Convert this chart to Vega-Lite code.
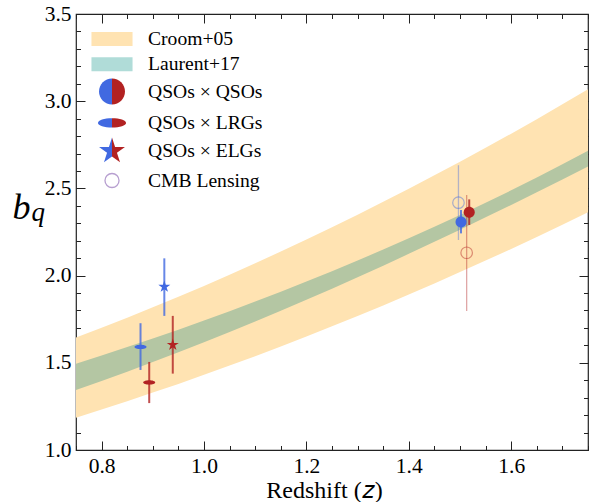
{
  "$schema": "https://vega.github.io/schema/vega-lite/v6.json",
  "width": 512,
  "height": 436,
  "autosize": {"type": "none"},
  "padding": {"left": 76, "top": 14, "right": 8, "bottom": 52},
  "background": "white",
  "config": {
    "view": {"stroke": "#222222", "strokeWidth": 1.2},
    "font": "Liberation Serif",
    "axis": {
      "grid": false,
      "domain": false,
      "tickColor": "#222222",
      "tickWidth": 1,
      "labelFont": "Liberation Serif",
      "labelFontSize": 21.5,
      "labelColor": "black",
      "titleFont": "Liberation Serif",
      "titleFontWeight": "normal",
      "titleColor": "black"
    },
    "legend": {
      "orient": "none",
      "legendX": 22,
      "legendY": 11,
      "padding": 0,
      "symbolSize": 676,
      "symbolStrokeWidth": 1.3,
      "symbolOpacity": 1,
      "rowPadding": 1.3,
      "labelOffset": 22,
      "labelFont": "Liberation Serif",
      "labelFontSize": 19.6,
      "labelColor": "black",
      "labelLimit": 300
    }
  },
  "datasets": {
    "bands": [
      {"z": 0.75, "c_lo": 1.185, "c_hi": 1.645, "l_lo": 1.344, "l_hi": 1.495},
      {"z": 0.80, "c_lo": 1.232, "c_hi": 1.701, "l_lo": 1.396, "l_hi": 1.542},
      {"z": 0.85, "c_lo": 1.280, "c_hi": 1.759, "l_lo": 1.449, "l_hi": 1.590},
      {"z": 0.90, "c_lo": 1.329, "c_hi": 1.818, "l_lo": 1.504, "l_hi": 1.639},
      {"z": 0.95, "c_lo": 1.379, "c_hi": 1.879, "l_lo": 1.560, "l_hi": 1.690},
      {"z": 1.00, "c_lo": 1.431, "c_hi": 1.941, "l_lo": 1.618, "l_hi": 1.742},
      {"z": 1.05, "c_lo": 1.484, "c_hi": 2.005, "l_lo": 1.677, "l_hi": 1.796},
      {"z": 1.10, "c_lo": 1.538, "c_hi": 2.071, "l_lo": 1.737, "l_hi": 1.851},
      {"z": 1.15, "c_lo": 1.594, "c_hi": 2.138, "l_lo": 1.798, "l_hi": 1.908},
      {"z": 1.20, "c_lo": 1.651, "c_hi": 2.207, "l_lo": 1.861, "l_hi": 1.966},
      {"z": 1.25, "c_lo": 1.709, "c_hi": 2.277, "l_lo": 1.925, "l_hi": 2.025},
      {"z": 1.30, "c_lo": 1.768, "c_hi": 2.349, "l_lo": 1.991, "l_hi": 2.087},
      {"z": 1.35, "c_lo": 1.829, "c_hi": 2.423, "l_lo": 2.057, "l_hi": 2.149},
      {"z": 1.40, "c_lo": 1.891, "c_hi": 2.498, "l_lo": 2.125, "l_hi": 2.214},
      {"z": 1.45, "c_lo": 1.955, "c_hi": 2.575, "l_lo": 2.194, "l_hi": 2.280},
      {"z": 1.50, "c_lo": 2.020, "c_hi": 2.653, "l_lo": 2.263, "l_hi": 2.348},
      {"z": 1.55, "c_lo": 2.086, "c_hi": 2.733, "l_lo": 2.334, "l_hi": 2.418},
      {"z": 1.60, "c_lo": 2.153, "c_hi": 2.814, "l_lo": 2.405, "l_hi": 2.489},
      {"z": 1.65, "c_lo": 2.222, "c_hi": 2.897, "l_lo": 2.478, "l_hi": 2.563},
      {"z": 1.70, "c_lo": 2.292, "c_hi": 2.982, "l_lo": 2.551, "l_hi": 2.639},
      {"z": 1.75, "c_lo": 2.363, "c_hi": 3.068, "l_lo": 2.625, "l_hi": 2.716}
    ],
    "points": [
      {"tracer": "QSOs × QSOs", "sample": "S1", "z": 1.502, "b": 2.307, "lo": 2.242, "hi": 2.376},
      {"tracer": "QSOs × QSOs", "sample": "S2", "z": 1.518, "b": 2.363, "lo": 2.290, "hi": 2.437},
      {"tracer": "QSOs × LRGs", "sample": "S1", "z": 0.876, "b": 1.591, "lo": 1.459, "hi": 1.727},
      {"tracer": "QSOs × LRGs", "sample": "S2", "z": 0.893, "b": 1.387, "lo": 1.269, "hi": 1.505},
      {"tracer": "QSOs × ELGs", "sample": "S1", "z": 0.9225, "b": 1.936, "lo": 1.769, "hi": 2.099},
      {"tracer": "QSOs × ELGs", "sample": "S2", "z": 0.939, "b": 1.603, "lo": 1.438, "hi": 1.769},
      {"tracer": "CMB Lensing", "sample": "S1", "z": 1.497, "b": 2.418, "lo": 2.204, "hi": 2.633},
      {"tracer": "CMB Lensing", "sample": "S2", "z": 1.513, "b": 2.131, "lo": 1.797, "hi": 2.462}
    ],
    "legend": [
      {"item": "Croom+05", "key": "k1"},
      {"item": "Laurent+17", "key": "k2"},
      {"item": "QSOs × QSOs", "key": "k3"},
      {"item": "QSOs × LRGs", "key": "k4"},
      {"item": "QSOs × ELGs", "key": "k5"},
      {"item": "CMB Lensing", "key": "k6"}
    ]
  },
  "resolve": {
    "axis": {"x": "independent", "y": "independent"},
    "scale": {"color": "independent", "stroke": "independent", "shape": "independent"}
  },
  "layer": [
    {
      "data": {"name": "bands"},
      "mark": {"type": "area", "opacity": 1, "fill": "#FFE3B2", "clip": true},
      "encoding": {
        "x": {"field": "z", "type": "quantitative", "scale": {"domain": [0.75, 1.75], "nice": false, "zero": false},
          "axis": {"orient": "bottom", "values": [0.8, 1.0, 1.2, 1.4, 1.6], "format": ".1f", "tickSize": -9, "labelPadding": 14,
            "title": "Redshift (𝑧)", "titleFontSize": 24, "titleX": 248, "titleY": 47, "titleBaseline": "alphabetic"}},
        "y": {"field": "c_lo", "type": "quantitative", "scale": {"domain": [1, 3.5], "nice": false, "zero": false},
          "axis": {"orient": "left", "values": [1, 1.5, 2, 2.5, 3, 3.5], "format": ".1f", "tickSize": -9, "labelPadding": 14,
            "title": "b", "titleFontSize": 36, "titleFontStyle": "italic", "titleAngle": 0, "titleX": -64, "titleY": 204,
            "titleAlign": "left", "titleBaseline": "alphabetic"}},
        "y2": {"field": "c_hi"}
      }
    },
    {
      "data": {"name": "bands"},
      "mark": {"type": "area", "opacity": 1, "fill": "#B4C6A3", "clip": true},
      "encoding": {
        "x": {"field": "z", "type": "quantitative", "scale": {"domain": [0.75, 1.75], "nice": false, "zero": false},
          "axis": {"orient": "top", "values": [0.8, 1.0, 1.2, 1.4, 1.6], "tickSize": -9, "labels": false, "title": null}},
        "y": {"field": "l_lo", "type": "quantitative", "scale": {"domain": [1, 3.5], "nice": false, "zero": false},
          "axis": {"orient": "right", "values": [1, 1.5, 2, 2.5, 3, 3.5], "tickSize": -9, "labels": false, "title": null}},
        "y2": {"field": "l_hi"}
      }
    },
    {
      "data": {"name": "points"},
      "mark": {"type": "rule"},
      "encoding": {
        "x": {"field": "z", "type": "quantitative", "scale": {"domain": [0.75, 1.75], "nice": false, "zero": false},
          "axis": {"orient": "bottom", "values": [0.75, 0.8, 0.85, 0.9, 0.95, 1.0, 1.05, 1.1, 1.15, 1.2, 1.25, 1.3, 1.35, 1.4, 1.45, 1.5, 1.55, 1.6, 1.65, 1.7, 1.75], "tickSize": -4.5, "labels": false, "title": null}},
        "y": {"field": "lo", "type": "quantitative", "scale": {"domain": [1, 3.5], "nice": false, "zero": false},
          "axis": {"orient": "left", "values": [1.0, 1.1, 1.2, 1.3, 1.4, 1.5, 1.6, 1.7, 1.8, 1.9, 2.0, 2.1, 2.2, 2.3, 2.4, 2.5, 2.6, 2.7, 2.8, 2.9, 3.0, 3.1, 3.2, 3.3, 3.4, 3.5], "tickSize": -4.5, "labels": false, "title": null}},
        "y2": {"field": "hi"},
        "color": {"field": "sample", "type": "nominal", "scale": {"domain": ["S1", "S2"], "range": ["#4169E1", "#B22222"]}, "legend": null},
        "opacity": {"condition": {"test": "datum.tracer === 'CMB Lensing'", "value": 0.4}, "value": 0.8},
        "strokeWidth": {"condition": {"test": "datum.tracer === 'CMB Lensing'", "value": 1.3}, "value": 2}
      }
    },
    {
      "data": {"name": "points"},
      "transform": [{"filter": "datum.tracer !== 'CMB Lensing'"}],
      "mark": {"type": "point", "filled": true, "opacity": 1, "size": 144},
      "encoding": {
        "x": {"field": "z", "type": "quantitative", "scale": {"domain": [0.75, 1.75], "nice": false, "zero": false},
          "axis": {"orient": "top", "values": [0.75, 0.8, 0.85, 0.9, 0.95, 1.0, 1.05, 1.1, 1.15, 1.2, 1.25, 1.3, 1.35, 1.4, 1.45, 1.5, 1.55, 1.6, 1.65, 1.7, 1.75], "tickSize": -4.5, "labels": false, "title": null}},
        "y": {"field": "b", "type": "quantitative", "scale": {"domain": [1, 3.5], "nice": false, "zero": false},
          "axis": {"orient": "right", "values": [1.0, 1.1, 1.2, 1.3, 1.4, 1.5, 1.6, 1.7, 1.8, 1.9, 2.0, 2.1, 2.2, 2.3, 2.4, 2.5, 2.6, 2.7, 2.8, 2.9, 3.0, 3.1, 3.2, 3.3, 3.4, 3.5], "tickSize": -4.5, "labels": false, "title": null}},
        "color": {"field": "sample", "type": "nominal", "scale": {"domain": ["S1", "S2"], "range": ["#4169E1", "#B22222"]}, "legend": null},
        "shape": {"field": "tracer", "type": "nominal",
          "scale": {"domain": ["QSOs × QSOs", "QSOs × LRGs", "QSOs × ELGs"],
            "range": [
              "M-0.92,0A0.92,0.92 0 1,0 0.92,0A0.92,0.92 0 1,0 -0.92,0Z",
              "M-1,0A1,0.36 0 1,0 1,0A1,0.36 0 1,0 -1,0Z",
              "M0,-1.05L0.236,-0.324L0.999,-0.324L0.381,0.124L0.617,0.849L0,0.401L-0.617,0.849L-0.381,0.124L-0.999,-0.324L-0.236,-0.324Z"
            ]},
          "legend": null}
      }
    },
    {
      "data": {"name": "points"},
      "transform": [{"filter": "datum.tracer === 'CMB Lensing'"}],
      "mark": {"type": "point", "filled": false, "shape": "circle", "size": 133, "strokeWidth": 1.2, "opacity": 0.45},
      "encoding": {
        "x": {"field": "z", "type": "quantitative", "scale": {"domain": [0.75, 1.75], "nice": false, "zero": false}, "axis": null},
        "y": {"field": "b", "type": "quantitative", "scale": {"domain": [1, 3.5], "nice": false, "zero": false},
          "axis": {"orient": "left", "ticks": false, "labels": false, "domain": false, "title": "q", "titleFontSize": 27,
            "titleFontStyle": "italic", "titleAngle": 0, "titleX": -45, "titleY": 206, "titleAlign": "left", "titleBaseline": "alphabetic"}},
        "color": {"field": "sample", "type": "nominal", "scale": {"domain": ["S1", "S2"], "range": ["#4169E1", "#B22222"]}, "legend": null}
      }
    },
    {
      "data": {"name": "legend"},
      "transform": [{"filter": "false"}],
      "mark": {"type": "point", "filled": true},
      "encoding": {
        "color": {"field": "item", "type": "nominal",
          "scale": {"domain": ["Croom+05", "Laurent+17", "QSOs × QSOs", "QSOs × LRGs", "QSOs × ELGs", "CMB Lensing"],
            "range": ["#FFE3B2", "#B0DCD8", "#4169E1", "#4169E1", "#4169E1", "transparent"]},
          "legend": {"title": null}},
        "stroke": {"field": "item", "type": "nominal",
          "scale": {"domain": ["Croom+05", "Laurent+17", "QSOs × QSOs", "QSOs × LRGs", "QSOs × ELGs", "CMB Lensing"],
            "range": ["transparent", "transparent", "transparent", "transparent", "transparent", "#B79FD0"]},
          "legend": {"title": null}},
        "shape": {"field": "item", "type": "nominal",
          "scale": {"domain": ["Croom+05", "Laurent+17", "QSOs × QSOs", "QSOs × LRGs", "QSOs × ELGs", "CMB Lensing"],
            "range": [
              "M-1.58,-0.54H1.58V0.54H-1.58Z",
              "M-1.58,-0.54H1.58V0.54H-1.58Z",
              "M0,-1A1,1 0 0,0 0,1Z",
              "M0,-0.35A1.08,0.35 0 0,0 0,0.35Z",
              "M0,-1.05L-0.236,-0.324L-0.999,-0.324L-0.381,0.124L-0.617,0.849L0,0.401Z",
              "M-0.54,0A0.54,0.54 0 1,0 0.54,0A0.54,0.54 0 1,0 -0.54,0Z"
            ]},
          "legend": {"title": null}}
      }
    },
    {
      "data": {"name": "legend"},
      "transform": [{"filter": "false"}],
      "mark": {"type": "point", "filled": true},
      "encoding": {
        "color": {"field": "key", "type": "nominal",
          "scale": {"domain": ["k1", "k2", "k3", "k4", "k5", "k6"],
            "range": ["transparent", "transparent", "#B22222", "#B22222", "#B22222", "transparent"]},
          "legend": {"title": null, "labelExpr": "''", "symbolStrokeColor": "transparent"}},
        "shape": {"field": "key", "type": "nominal",
          "scale": {"domain": ["k1", "k2", "k3", "k4", "k5", "k6"],
            "range": [
              "M-0.1,0A0.1,0.1 0 1,0 0.1,0A0.1,0.1 0 1,0 -0.1,0Z",
              "M-0.1,0A0.1,0.1 0 1,0 0.1,0A0.1,0.1 0 1,0 -0.1,0Z",
              "M0,-1A1,1 0 0,1 0,1Z",
              "M0,-0.35A1.08,0.35 0 0,1 0,0.35Z",
              "M0,-1.05L0.236,-0.324L0.999,-0.324L0.381,0.124L0.617,0.849L0,0.401Z",
              "M-0.1,0A0.1,0.1 0 1,0 0.1,0A0.1,0.1 0 1,0 -0.1,0Z"
            ]},
          "legend": {"title": null, "labelExpr": "''", "symbolStrokeColor": "transparent"}}
      }
    }
  ]
}
